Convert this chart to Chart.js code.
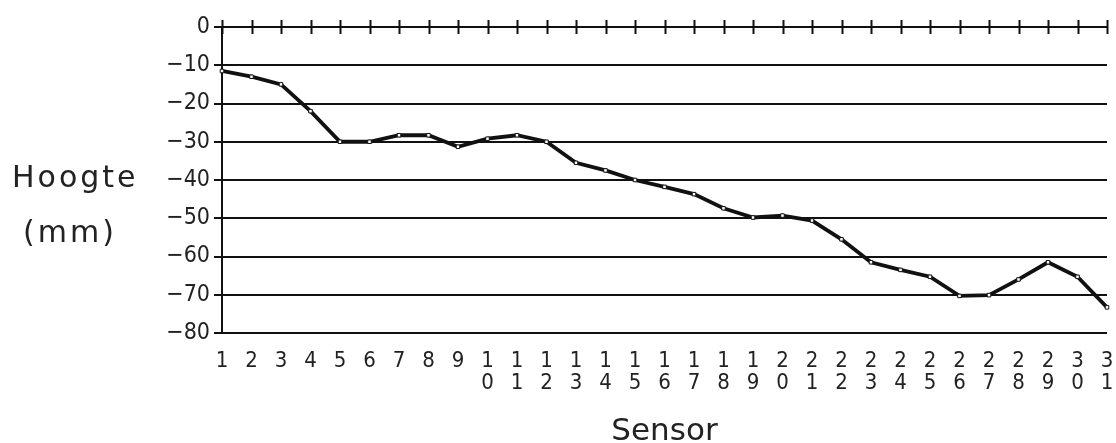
<!DOCTYPE html>
<html>
<head>
<meta charset="utf-8">
<script src="https://cdn.jsdelivr.net/npm/chart.js@4.4.1/dist/chart.umd.min.js"></script>
<style>
  html,body{margin:0;padding:0;background:#fff;}
  #wrap{width:1116px;height:443px;position:relative;}
</style>
</head>
<body>
<div id="wrap"><canvas id="chart"></canvas></div>
<script>
// sensor numbers along the bottom
const sensorLabels = ['1','2','3','4','5','6','7','8','9','10','11','12','13','14','15','16',
  '17','18','19','20','21','22','23','24','25','26','27','28','29','30','31'];
// measured height per sensor (mm)
const hoogteValues = [-11.5,-13,-15,-22,-30,-30,-28.3,-28.3,-31.3,-29.2,-28.3,-30,-35.5,-37.5,-40,
  -41.8,-43.7,-47.4,-49.8,-49.3,-50.6,-55.5,-61.5,-63.5,-65.3,-70.3,-70.1,-66,-61.5,-65.3,-73.3];
const yMin = -80, yMax = 0, yStep = 10;

const tickFont = "'Liberation Sans Narrow','DejaVu Sans Condensed',sans-serif";
const titleFont = "'DejaVu Sans',sans-serif";

// crossing tick marks on the zero line, plus the horizontal y title
const extras = {
  id: 'extras',
  afterDraw(chart){
    const ctx = chart.ctx, x = chart.scales.x, y = chart.scales.y;
    const y0 = y.getPixelForValue(0);
    ctx.save();
    ctx.strokeStyle = '#111';
    ctx.lineWidth = 2;
    for(let i = 0; i < sensorLabels.length; i++){
      const px = Math.round(x.getPixelForValue(i)) + 0.5;
      ctx.beginPath(); ctx.moveTo(px, y0 - 7); ctx.lineTo(px, y0 + 7); ctx.stroke();
    }
    ctx.fillStyle = '#222';
    ctx.font = '30px ' + titleFont;
    ctx.letterSpacing = '3px';
    ctx.textBaseline = 'alphabetic';
    ctx.textAlign = 'left';
    ctx.fillText('Hoogte', 12, 187);
    ctx.fillText('(mm)', 23, 242);
    ctx.restore();
  }
};

new Chart(document.getElementById('chart').getContext('2d'), {
  type: 'line',
  data: {
    labels: sensorLabels,
    datasets: [{
      data: hoogteValues,
      borderColor: '#111',
      borderWidth: 3.8,
      tension: 0,
      pointStyle: 'rect',
      pointRadius: 2.5,
      pointBackgroundColor: '#fff',
      pointBorderColor: '#111',
      pointBorderWidth: 1
    }]
  },
  options: {
    responsive: true,
    maintainAspectRatio: false,
    animation: false,
    layout: { padding: { top: 27, right: 9, bottom: 0, left: 0 } },
    plugins: { legend: { display: false }, tooltip: { enabled: false } },
    scales: {
      x: {
        type: 'category',
        offset: false,
        afterFit(scale){ scale.height = 110; scale.paddingLeft = 0; scale.paddingRight = 0; },
        grid: { display: false },
        border: { display: false },
        ticks: {
          color: '#222',
          padding: 9,
          maxRotation: 0,
          autoSkip: false,
          font: { family: tickFont, size: 22, lineHeight: 1.0 },
          callback(v){ const s = sensorLabels[v]; return s.length > 1 ? s.split('') : s; }
        },
        title: {
          display: true, text: 'Sensor', color: '#222',
          font: { family: titleFont, size: 31, lineHeight: 1.0 }, padding: { top: 4, bottom: -4 }
        }
      },
      y: {
        min: yMin, max: yMax,
        afterFit(scale){ scale.width = 222; },
        grid: { color: '#111', lineWidth: 2, tickLength: 8, tickColor: '#111' },
        border: { display: true, color: '#111', width: 2 },
        ticks: {
          stepSize: yStep, color: '#222', padding: 4,
          font: { family: tickFont, size: 23 },
          callback(v){ return v < 0 ? '\u2212' + Math.abs(v) : String(v); }
        }
      }
    }
  },
  plugins: [extras]
});
</script>
</body>
</html>
